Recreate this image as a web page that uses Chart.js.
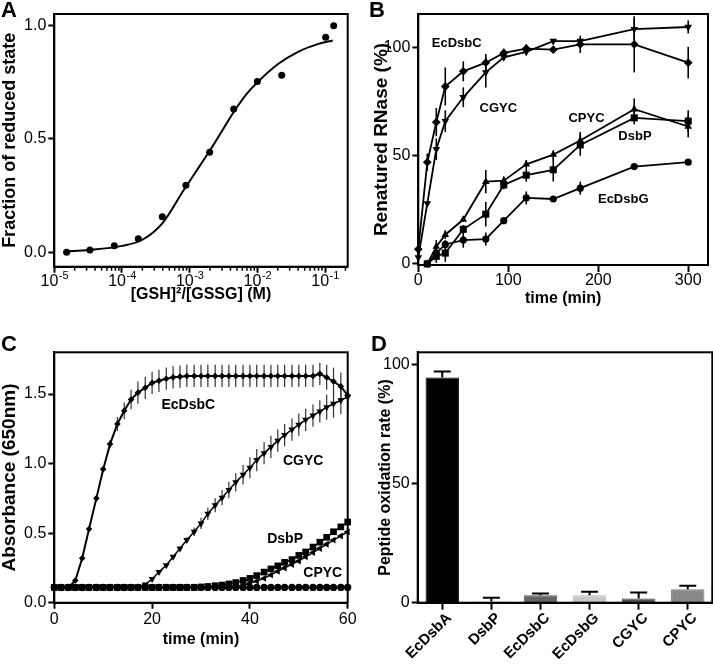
<!DOCTYPE html>
<html>
<head>
<meta charset="utf-8">
<script src="https://cdn.jsdelivr.net/npm/chart.js@4.4.1/dist/chart.umd.min.js"></script>
<style>
html, body { margin: 0; padding: 0; background: #fff; }
#page { position: relative; width: 713px; height: 664px; overflow: hidden; }
#page canvas { position: absolute; left: 0; top: 0; width: 713px; height: 664px; }
.tag { position: absolute; font: bold 22px "Liberation Sans", Arial, sans-serif; line-height: 22px; }
</style>
</head>
<body>
<div id="page">
  <canvas id="chartA" width="713" height="664"></canvas>
  <canvas id="chartB" width="713" height="664"></canvas>
  <canvas id="chartC" width="713" height="664"></canvas>
  <canvas id="chartD" width="713" height="664"></canvas>
  <div class="tag" style="left:1px;top:-1px">A</div>
  <div class="tag" style="left:369px;top:-1px">B</div>
  <div class="tag" style="left:1px;top:333px">C</div>
  <div class="tag" style="left:371px;top:333px">D</div>
</div>
<script>
// ---------- A: redox equilibrium ----------
const aConc = [1.52e-5, 3.36e-5, 7.7e-5, 1.74e-4, 3.94e-4, 8.8e-4, 1.97e-3, 4.47e-3, 1.0e-2, 2.29e-2, 1.02e-1, 1.34e-1];
const aFrac = [0.0, 0.01, 0.029, 0.059, 0.157, 0.296, 0.441, 0.632, 0.754, 0.781, 0.949, 1.0];
// fitted curve
const aFitConc = [1.5e-5, 3.2e-5, 1e-4, 2e-4, 4e-4, 8e-4, 1.4e-3, 2e-3, 3e-3, 4.5e-3, 7e-3, 1e-2, 2e-2, 4e-2, 8e-2, 1.3e-1];
const aFitFrac = [0.004, 0.010, 0.028, 0.055, 0.13, 0.27, 0.38, 0.45, 0.535, 0.62, 0.70, 0.75, 0.83, 0.885, 0.92, 0.935];
const aXTicks = [1e-5, 1e-4, 1e-3, 1e-2, 1e-1];
const aXExps = ['-5', '-4', '-3', '-2', '-1'];
const aYTicks = [0, 0.5, 1];
const aYLabels = ['0.0', '0.5', '1.0'];

// ---------- B: RNase refolding ----------
const bTimeFast = [0, 10, 20, 30, 50, 75, 95, 120, 150, 180, 240, 300];
const bTimeSlow = [10, 20, 30, 50, 75, 95, 120, 150, 180, 240, 300];
const bEcDsbC    = [6.8, 47, 65.5, 82, 89, 93, 97.5, 99.5, 99, 101.5, 101.5, 93];
const bEcDsbCErr = [0, 4, 6.5, 8.8, 4.6, 4, 2, 2, 1, 4, 13, 7.3];
const bCGYC      = [3, 28, 53, 66, 77, 88.5, 95.5, 98, 103, 103, 108.5, 109.5];
const bCGYCErr   = [3, 0, 5, 5, 4.6, 7, 1, 1, 1, 1, 5, 3];
const bCPYC      = [0, 8, 13.5, 20.5, 38, 38.5, 46, 50.5, 57, 71.5, 63.5];
const bCPYCErr   = [0, 3, 2, 1, 5.4, 2, 2, 2, 4, 5, 5];
const bDsbP      = [0, 3.5, 5, 16, 23, 36.5, 41, 43.5, 55, 67.5, 66];
const bDsbPErr   = [0, 3, 4, 2, 5.7, 2, 3, 5.4, 5, 3, 5];
const bEcDsbG    = [0, 5, 9, 11, 11.5, 20, 30.5, 30, 35, 45, 47];
const bEcDsbGErr = [0, 2, 2, 3.5, 3, 1, 3, 1, 3, 1, 1];
const bXTicks = [0, 100, 200, 300];
const bYTicks = [0, 50, 100];

// ---------- C: insulin reduction ----------
const cTime = [0, 1.4, 2.9, 4.3, 5.7, 7.1, 8.6, 10, 11.4, 12.9, 14.3, 15.7, 17.1, 18.6, 20,
  21.4, 22.9, 24.3, 25.7, 27.1, 28.6, 30, 31.4, 32.9, 34.3, 35.7, 37.1, 38.6, 40,
  41.4, 42.9, 44.3, 45.7, 47.1, 48.6, 50, 51.4, 52.9, 54.3, 55.7, 57.1, 58.6, 60];
const cEcDsbC = [0.11, 0.11, 0.11, 0.16, 0.32, 0.53, 0.75, 0.96, 1.14, 1.285, 1.38, 1.46, 1.51,
  1.545, 1.58, 1.595, 1.61, 1.62, 1.625,
  1.63, 1.63, 1.63, 1.63, 1.63, 1.63, 1.63, 1.63, 1.63, 1.63,
  1.63, 1.63, 1.63, 1.63, 1.63, 1.63, 1.63, 1.63, 1.63,
  1.645, 1.62, 1.59, 1.555, 1.49];
const cEcDsbCErr = [0, 0, 0, 0, 0, 0, 0, 0, 0.03, 0.05, 0.06, 0.07,
  0.08, 0.08, 0.08, 0.08, 0.08, 0.08, 0.08, 0.08, 0.08, 0.08, 0.08, 0.08, 0.08, 0.08,
  0.08, 0.08, 0.08, 0.08, 0.08, 0.08, 0.08, 0.08, 0.08, 0.08, 0.08, 0.08, 0.08,
  0.09, 0.1, 0.1, 0.11];
const cCGYC = [0.11, 0.11, 0.11, 0.11, 0.11, 0.11, 0.11, 0.11, 0.11, 0.11, 0.11, 0.11, 0.11,
  0.13, 0.17, 0.22, 0.27, 0.33, 0.39, 0.45, 0.51, 0.57, 0.64, 0.70, 0.755, 0.81, 0.865,
  0.92, 0.97, 1.025, 1.075, 1.12, 1.165, 1.205, 1.245, 1.28, 1.315, 1.345, 1.375,
  1.405, 1.43, 1.455, 1.48];
const cCGYCErr = [0, 0, 0, 0, 0, 0, 0, 0, 0, 0, 0, 0, 0, 0, 0, 0, 0, 0, 0,
  0.02, 0.03, 0.04, 0.045, 0.05, 0.055, 0.06, 0.065, 0.07, 0.075, 0.08, 0.08, 0.08,
  0.08, 0.08, 0.08, 0.08, 0.08, 0.08, 0.08, 0.09, 0.1, 0.1, 0.11];
const cDsbP = [0.11, 0.11, 0.11, 0.11, 0.11, 0.11, 0.11, 0.11, 0.11, 0.11, 0.11,
  0.11, 0.11, 0.11, 0.11, 0.11, 0.11, 0.11, 0.11, 0.11, 0.11,
  0.113, 0.117, 0.122, 0.127, 0.135, 0.145, 0.16, 0.175, 0.195, 0.22, 0.243,
  0.265, 0.29, 0.31, 0.34, 0.365, 0.40, 0.435, 0.47, 0.51, 0.545, 0.58];
const cCPYC = [0.11, 0.11, 0.11, 0.11, 0.11, 0.11, 0.11, 0.11, 0.11, 0.11, 0.11, 0.11, 0.11,
  0.11, 0.11, 0.11, 0.11, 0.11, 0.11, 0.11, 0.11, 0.11, 0.11, 0.11, 0.11, 0.11,
  0.115, 0.125, 0.14, 0.155, 0.175, 0.2, 0.225, 0.25, 0.275, 0.30, 0.33, 0.36,
  0.39, 0.42, 0.45, 0.48, 0.51];
const cEcDsbG = [0.11, 0.11, 0.11, 0.11, 0.11, 0.11, 0.11, 0.11, 0.11, 0.11, 0.11,
  0.11, 0.11, 0.11, 0.11, 0.11, 0.11, 0.11, 0.11, 0.11, 0.11, 0.11,
  0.11, 0.11, 0.11, 0.11, 0.11, 0.11, 0.11, 0.11, 0.11, 0.11, 0.11,
  0.11, 0.11, 0.11, 0.11, 0.11, 0.11, 0.11, 0.11, 0.11, 0.11];
const cXTicks = [0, 20, 40, 60];
const cYTicks = [0, 0.5, 1, 1.5];
const cYLabels = ['0.0', '0.5', '1.0', '1.5'];

// ---------- D: peptide oxidation ----------
const dProteins = ['EcDsbA', 'DsbP', 'EcDsbC', 'EcDsbG', 'CGYC', 'CPYC'];
const dRate     = [94.4, 0.5, 3.1, 3.1, 1.8, 5.6];
const dRateErr  = [2.5, 1.6, 0.8, 1.5, 2.5, 1.5];
const dYTicks = [0, 50, 100];

const FONT = '"Liberation Sans", Arial, Helvetica, sans-serif';
Chart.defaults.font.family = FONT;
Chart.defaults.color = '#000';
Chart.defaults.animation = false;
Chart.defaults.plugins.legend.display = false;
Chart.defaults.plugins.tooltip.enabled = false;

const pts = (xs, ys) => xs.map((x, i) => ({ x: x, y: ys[i] }));

// box round the plot area
const framePlugin = {
  id: 'frame',
  afterDatasetsDraw(chart) {
    const { ctx, chartArea: a } = chart;
    ctx.save();
    ctx.strokeStyle = '#000';
    ctx.lineWidth = 2;
    ctx.strokeRect(a.left, a.top, a.right - a.left, a.bottom - a.top);
    ctx.restore();
  }
};

function drawErrors(chart, opts) {
  const ctx = chart.ctx;
  chart.data.datasets.forEach((ds, i) => {
    if (!ds.errors) return;
    const meta = chart.getDatasetMeta(i);
    const ys = chart.scales[meta.yAxisID];
    ctx.save();
    ctx.strokeStyle = opts.color || '#000';
    ctx.lineWidth = opts.width || 1;
    meta.data.forEach((el, j) => {
      const e = ds.errors[j];
      if (!e) return;
      const d = ds.data[j];
      const v = typeof d === 'object' ? d.y : d;
      const top = ys.getPixelForValue(v + e);
      const bot = ys.getPixelForValue(opts.upOnly ? v : v - e);
      ctx.beginPath();
      ctx.moveTo(el.x, bot);
      ctx.lineTo(el.x, top);
      if (opts.cap) {
        ctx.moveTo(el.x - opts.cap, top);
        ctx.lineTo(el.x + opts.cap, top);
      }
      ctx.stroke();
    });
    ctx.restore();
  });
}

const errorBarPlugin = {
  id: 'errorBars',
  beforeDatasetsDraw(chart, args, opts) { if (!opts.onTop) drawErrors(chart, opts); },
  afterDatasetsDraw(chart, args, opts) { if (opts.onTop) drawErrors(chart, opts); }
};

// curve names written inside the plot, placed in data units
const seriesLabelPlugin = {
  id: 'seriesLabels',
  afterDatasetsDraw(chart, args, opts) {
    if (!opts.items) return;
    const { ctx, scales } = chart;
    ctx.save();
    ctx.font = 'bold ' + opts.size + 'px ' + FONT;
    ctx.fillStyle = '#000';
    ctx.textAlign = 'center';
    ctx.textBaseline = 'middle';
    opts.items.forEach(it => {
      ctx.fillText(it.text, scales.x.getPixelForValue(it.x), scales.y.getPixelForValue(it.y));
    });
    ctx.restore();
  }
};

// short minor ticks and 10^n labels on the log axis
const logAxisPlugin = {
  id: 'logAxis',
  afterDraw(chart, args, opts) {
    if (!opts.exps) return;
    const sx = chart.scales.x, ctx = chart.ctx, yb = chart.chartArea.bottom;
    ctx.save();
    ctx.strokeStyle = '#000';
    ctx.lineWidth = 1.5;
    for (let d = -5; d <= -1; d++) {
      for (let m = 2; m <= 9; m++) {
        const v = m * Math.pow(10, d);
        if (v > sx.max) continue;
        const px = sx.getPixelForValue(v);
        ctx.beginPath();
        ctx.moveTo(px, yb);
        ctx.lineTo(px, yb + 4);
        ctx.stroke();
      }
    }
    ctx.fillStyle = '#000';
    ctx.textAlign = 'left';
    ctx.textBaseline = 'alphabetic';
    const base = yb + 19;
    opts.values.forEach((v, i) => {
      const px = sx.getPixelForValue(v);
      ctx.font = '16px ' + FONT;
      const w1 = ctx.measureText('10').width;
      ctx.font = '11px ' + FONT;
      const w2 = ctx.measureText(opts.exps[i]).width;
      const x0 = px - (w1 + w2) / 2;
      ctx.font = '16px ' + FONT;
      ctx.fillText('10', x0, base);
      ctx.font = '11px ' + FONT;
      ctx.fillText(opts.exps[i], x0 + w1 + 0.5, base - 6.5);
    });
    ctx.restore();
  }
};

// slanted category names under the bars, laid out letter by letter on the diagonal
const slantLabelPlugin = {
  id: 'slantLabels',
  afterDraw(chart, args, opts) {
    if (!opts.on) return;
    const sx = chart.scales.x, ctx = chart.ctx, y0 = chart.chartArea.bottom + opts.dy;
    const c = Math.SQRT1_2;
    ctx.save();
    ctx.font = 'bold ' + opts.size + 'px ' + FONT;
    ctx.fillStyle = '#000';
    ctx.textAlign = 'left';
    ctx.textBaseline = 'middle';
    chart.data.labels.forEach((lab, i) => {
      const ax = sx.getPixelForValue(i) + opts.dx;
      const total = ctx.measureText(lab).width;
      let run = 0;
      for (const ch of lab) {
        const t = run - total;
        ctx.save();
        ctx.translate(ax + t * c, y0 - t * c);
        ctx.rotate(-Math.PI / 4);
        ctx.fillText(ch, 0, 0);
        ctx.restore();
        run += ctx.measureText(ch).width;
      }
    });
    ctx.restore();
  }
};

function makeAxis(c) {
  const ax = {
    type: c.type || 'linear',
    min: c.min,
    max: c.max,
    border: { display: true, width: 2, color: '#000' },
    grid: { display: true, drawOnChartArea: false, drawTicks: true, offset: false,
            tickLength: c.tickLength || 6, tickWidth: 2, tickColor: '#000' },
    ticks: {
      display: c.hideLabels ? false : true,
      color: '#000', autoSkip: false, padding: c.pad === undefined ? 2 : c.pad,
      maxRotation: 0, minRotation: 0,
      font: { size: 16, lineHeight: 1 }
    },
    title: { display: !!c.title, text: c.title || '', color: '#000', padding: 0,
             font: { size: c.titleSize || 16, weight: 'bold', lineHeight: 1 } },
    afterFit: s => { if (c.w) s.width = c.w; if (c.h) s.height = c.h; }
  };
  if (c.labels) ax.ticks.callback = (v, i) => c.labels[i];
  if (c.ticks) ax.afterBuildTicks = s => { s.ticks = c.ticks.map(v => ({ value: v })); };
  return ax;
}

const basePlugins = [framePlugin, errorBarPlugin, seriesLabelPlugin, logAxisPlugin, slantLabelPlugin];

// ---- A
new Chart(document.getElementById('chartA'), {
  type: 'scatter',
  data: {
    datasets: [
      { data: pts(aFitConc, aFitFrac), showLine: true, pointRadius: 0, borderColor: '#000',
        borderWidth: 2, cubicInterpolationMode: 'monotone' },
      { data: pts(aConc, aFrac), showLine: false, pointRadius: 3.5, backgroundColor: '#000',
        borderColor: '#000', borderWidth: 0 }
    ]
  },
  options: {
    responsive: false,
    layout: { padding: { left: 0.7, top: 14, right: 365.3, bottom: 361 } },
    scales: {
      x: makeAxis({ type: 'logarithmic', min: 1e-5, max: 0.216, ticks: aXTicks, hideLabels: true,
                    title: '[GSH]²/[GSSG] (M)', h: 36.3 }),
      y: makeAxis({ min: -0.064, max: 1.052, ticks: aYTicks, labels: aYLabels,
                    title: 'Fraction of reduced state', titleSize: 18, w: 53.6 })
    },
    plugins: { logAxis: { values: aXTicks, exps: aXExps } }
  },
  plugins: basePlugins
});

// ---- B
const bLine = (xs, ys, errs, style, r, rot) => ({
  data: pts(xs, ys), errors: errs, showLine: true, borderColor: '#000', borderWidth: 1.8,
  pointStyle: style, pointRotation: rot || 0, pointRadius: r, backgroundColor: '#000',
  pointBorderWidth: 0, clip: false
});
new Chart(document.getElementById('chartB'), {
  type: 'scatter',
  data: {
    datasets: [
      bLine(bTimeSlow, bEcDsbG, bEcDsbGErr, 'circle', 3.6),
      bLine(bTimeSlow, bDsbP, bDsbPErr, 'rect', 5),
      bLine(bTimeSlow, bCPYC, bCPYCErr, 'triangle', 4.4),
      bLine(bTimeFast, bCGYC, bCGYCErr, 'triangle', 4.4, 180),
      bLine(bTimeFast, bEcDsbC, bEcDsbCErr, 'rectRot', 4.4)
    ]
  },
  options: {
    responsive: false,
    layout: { padding: { left: 372.2, top: 14, right: 4.7, bottom: 357.7 } },
    scales: {
      x: makeAxis({ min: 0, max: 322, ticks: bXTicks, title: 'time (min)', h: 41.3,
                    tickLength: 7, pad: 1 }),
      y: makeAxis({ min: -0.5, max: 115.5, ticks: bYTicks, title: 'Renatured RNase (%)',
                    titleSize: 19, w: 46.1 })
    },
    plugins: {
      errorBars: { color: '#000', width: 1.6 },
      seriesLabels: { size: 13, items: [
        { text: 'EcDsbC', x: 42.7, y: 102 },
        { text: 'CGYC', x: 88.9, y: 71.8 },
        { text: 'CPYC', x: 187, y: 67.2 },
        { text: 'DsbP', x: 240.8, y: 58.7 },
        { text: 'EcDsbG', x: 227.8, y: 29.9 }
      ] }
    }
  },
  plugins: basePlugins
});

// ---- C
const cLine = (ys, errs, style, rot, r, w) => ({
  data: pts(cTime, ys), errors: errs, showLine: true, borderColor: '#000', borderWidth: w,
  pointStyle: style, pointRotation: rot || 0, pointRadius: r, backgroundColor: '#000',
  pointBorderWidth: 0, clip: false
});
new Chart(document.getElementById('chartC'), {
  type: 'scatter',
  data: {
    datasets: [
      cLine(cEcDsbG, null, 'circle', 0, 3.6, 1.5),
      cLine(cCPYC, null, 'triangle', 270, 4, 1.5),
      cLine(cDsbP, null, 'rect', 0, 4.7, 1.5),
      cLine(cCGYC, cCGYCErr, 'triangle', 180, 4, 1.5),
      cLine(cEcDsbC, cEcDsbCErr, 'rectRot', 0, 3.3, 2)
    ]
  },
  options: {
    responsive: false,
    layout: { padding: { left: 0, top: 352.3, right: 365.3, bottom: 16 } },
    scales: {
      x: makeAxis({ min: 0, max: 60, ticks: cXTicks, title: 'time (min)', h: 45.3,
                    tickLength: 6, pad: 2.5 }),
      y: makeAxis({ min: 0, max: 1.8, ticks: cYTicks, labels: cYLabels,
                    title: 'Absorbance (650nm)', titleSize: 19, w: 54.3 })
    },
    plugins: {
      errorBars: { color: '#333', width: 1.2 },
      seriesLabels: { size: 14, items: [
        { text: 'EcDsbC', x: 27.4, y: 1.417 },
        { text: 'CGYC', x: 50.9, y: 1.016 },
        { text: 'DsbP', x: 47.2, y: 0.457 },
        { text: 'CPYC', x: 54.9, y: 0.212 }
      ] }
    }
  },
  plugins: basePlugins
});

// ---- D
new Chart(document.getElementById('chartD'), {
  type: 'bar',
  data: {
    labels: dProteins,
    datasets: [{
      data: dRate,
      errors: dRateErr,
      backgroundColor: ['#000000', '#eeeeee', '#646464', '#c8c8c8', '#555555', '#888888'],
      borderColor: ['#000000', '#e0e0e0', '#5a5a5a', '#bcbcbc', '#4a4a4a', '#7c7c7c'],
      borderWidth: 1,
      barPercentage: 0.68,
      categoryPercentage: 1
    }]
  },
  options: {
    responsive: false,
    layout: { padding: { left: 377.7, top: 352.3, right: 0.7, bottom: 0 } },
    scales: {
      x: makeAxis({ type: 'category', hideLabels: true, h: 61.3, tickLength: 7 }),
      y: makeAxis({ min: 0, max: 105, ticks: dYTicks, title: 'Peptide oxidation rate (%)', w: 40 })
    },
    plugins: {
      errorBars: { color: '#000', width: 2, upOnly: true, cap: 8.5, onTop: true },
      slantLabels: { on: true, size: 15, dx: 7, dy: 13 }
    }
  },
  plugins: basePlugins
});
</script>
</body>
</html>
